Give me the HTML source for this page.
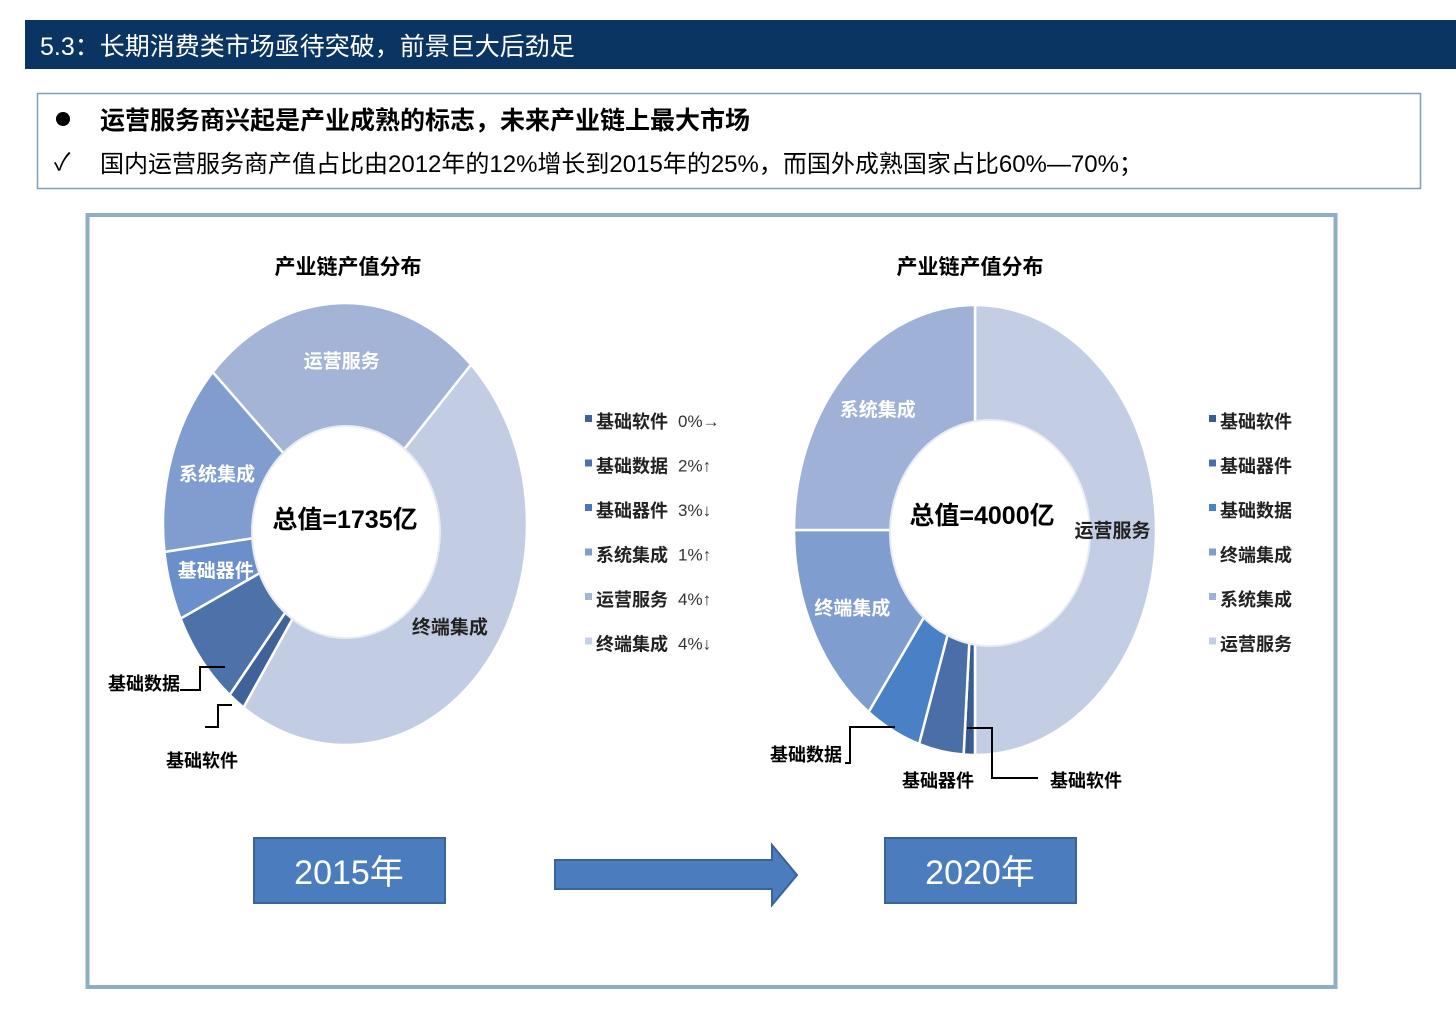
<!DOCTYPE html>
<html><head><meta charset="utf-8">
<style>
body{margin:0;background:#fff;width:1456px;height:1024px;overflow:hidden;font-family:"Liberation Sans","Noto Sans CJK SC",sans-serif}
svg text{font-family:"Liberation Sans","Noto Sans CJK SC",sans-serif}
</style></head>
<body>
<svg id="s" width="1456" height="1024" xmlns="http://www.w3.org/2000/svg">
<rect x="25" y="20" width="1431" height="49" fill="#0a3563"/>
<text x="40" y="55" font-size="25" fill="#fff">5.3：长期消费类市场亟待突破，前景巨大后劲足</text>
<rect x="37.5" y="93.5" width="1383" height="95" fill="#fff" stroke="#7e9fb6" stroke-width="1.5"/>
<circle cx="63" cy="119" r="7" fill="#000"/>
<text x="100" y="129" font-size="25" font-weight="bold" font-family="Liberation Serif,Noto Serif CJK SC,serif">运营服务商兴起是产业成熟的标志，未来产业链上最大市场</text>
<text x="54" y="170" font-size="24">✓</text>
<text x="100" y="172" font-size="24" font-family="Liberation Serif,Noto Serif CJK SC,serif">国内运营服务商产值占比由2012年的12%增长到2015年的25%，而国外成熟国家占比60%—70%；</text>
<rect x="87.5" y="215" width="1248" height="772" fill="#fff" stroke="#8eaec3" stroke-width="4"/>
<text x="348" y="274" font-size="21" font-weight="bold" text-anchor="middle">产业链产值分布</text>
<text x="970" y="274" font-size="21" font-weight="bold" text-anchor="middle">产业链产值分布</text>
<g id="d1"></g><g id="d2"></g>
<text x="345" y="528" font-size="25" font-weight="bold" text-anchor="middle">总值=1735亿</text>
<text x="982" y="524" font-size="25" font-weight="bold" text-anchor="middle">总值=4000亿</text>
<polyline points="180,690 200,690 200,667 225,667" fill="none" stroke="#000" stroke-width="2"/>
<text x="108" y="690" font-size="18" font-weight="bold">基础数据</text>
<polyline points="205,727 218,727 218,705 232,705" fill="none" stroke="#000" stroke-width="2"/>
<text x="166" y="767" font-size="18" font-weight="bold">基础软件</text>
<polyline points="845,763 850,763 850,727 895,727" fill="none" stroke="#000" stroke-width="2"/>
<text x="770" y="761" font-size="18" font-weight="bold">基础数据</text>
<text x="902" y="787" font-size="18" font-weight="bold">基础器件</text>
<polyline points="967,728 992,728 992,778 1038,778" fill="none" stroke="#000" stroke-width="2"/>
<text x="1050" y="787" font-size="18" font-weight="bold">基础软件</text>
<g id="leg1"></g><g id="leg2"></g>
<rect x="254" y="838" width="191" height="65" fill="#4a7cbe" stroke="#3a6397" stroke-width="2"/>
<text x="349" y="884" font-size="34" fill="#fff" text-anchor="middle">2015年</text>
<polygon points="555,860 772,860 772,845 797,875 772,905 772,889 555,889" fill="#4a7cbe" stroke="#3a6397" stroke-width="2"/>
<rect x="885" y="838" width="191" height="65" fill="#4a7cbe" stroke="#3a6397" stroke-width="2"/>
<text x="980" y="884" font-size="34" fill="#fff" text-anchor="middle">2020年</text>
</svg>
<script>
const cats2015 = ["运营服务","终端集成","基础软件","基础数据","基础器件","系统集成"];
const vals2015 = [25, 47, 1.5, 7, 5, 14];
const cols2015 = ["#a3b4d7","#c2cce3","#3f6298","#4d72a9","#6b8fca","#819dcf"];
const lbl2015 = [1,1,0,0,1,1];
const cats2020 = ["运营服务","基础软件","基础器件","基础数据","终端集成","系统集成"];
const vals2020 = [50, 1, 4, 5, 15, 25];
const cols2020 = ["#c3cde4","#3b5c92","#4a6ea8","#4a80c5","#809dd0","#9fb1d6"];
const lbl2020 = [1,0,0,0,1,1];
const legCats2015 = ["基础软件","基础数据","基础器件","系统集成","运营服务","终端集成"];
const legChg2015 = ["0%→","2%↑","3%↓","1%↑","4%↑","4%↓"];
const legCols2015 = ["#3f6298","#4d72a9","#4d72c0","#819dcf","#a3b4d7","#c8cfe6"];
const legCats2020 = ["基础软件","基础器件","基础数据","终端集成","系统集成","运营服务"];
const legCols2020 = ["#3b5c92","#4a6ea8","#4a80c5","#809dd0","#9fb1d6","#c3cde4"];
const NS="http://www.w3.org/2000/svg";
function pt(cx,cy,rx,ry,a){const r=a*Math.PI/180;return [cx+rx*Math.sin(r),cy-ry*Math.cos(r)];}
function donut(g,cats,vals,cols,lbl,start,cx,cy,rx,ry,hx,hy,hrx,hry,labCol,lr){
  const tot=vals.reduce((a,b)=>a+b,0);let a=start;const mids=[];
  cats.forEach((c,i)=>{
    const a1=a+vals[i]/tot*360;
    const p0=pt(cx,cy,rx,ry,a),p1=pt(cx,cy,rx,ry,a1);
    const path=document.createElementNS(NS,"path");
    path.setAttribute("d",`M${cx},${cy}L${p0[0]},${p0[1]}A${rx},${ry} 0 ${a1-a>180?1:0} 1 ${p1[0]},${p1[1]}Z`);
    path.setAttribute("fill",cols[i]);path.setAttribute("stroke","#fff");path.setAttribute("stroke-width","2.5");
    
    
    g.appendChild(path);
    mids.push((a+a1)/2);
    a=a1;
  });
  const h=document.createElementNS(NS,"ellipse");
  h.setAttribute("cx",hx);h.setAttribute("cy",hy);h.setAttribute("rx",hrx);h.setAttribute("ry",hry);
  h.setAttribute("fill","#fff");h.setAttribute("stroke","#e8ecf4");h.setAttribute("stroke-width","2");
  
  
  g.appendChild(h);
  cats.forEach((c,i)=>{
    if(!lbl[i])return;
    const m=pt(cx,cy,rx*lr,ry*lr,mids[i]);
    const t=document.createElementNS(NS,"text");
    t.setAttribute("x",m[0]);t.setAttribute("y",m[1]+7);t.setAttribute("text-anchor","middle");
    t.setAttribute("font-size","19");t.setAttribute("font-weight","bold");
    t.setAttribute("fill",labCol[i]);t.textContent=c;
    
    
    g.appendChild(t);
  });
}
donut(document.getElementById("d1"),cats2015,vals2015,cols2015,lbl2015,-46.6,345,524,182,221,346,532,94,106,
  ["#fff","#222","#fff","#fff","#fff","#fff"],0.74);
donut(document.getElementById("d2"),cats2020,vals2020,cols2020,lbl2020,0,975,530,181,225,990,533,100,113,
  ["#222","#fff","#fff","#fff","#fff","#fff"],0.76);
function legend(g,cats,cols,chg,x,y0,dy){
  cats.forEach((c,i)=>{
    const y=y0+i*dy;
    const r=document.createElementNS(NS,"rect");
    r.setAttribute("x",x);r.setAttribute("y",y-13);r.setAttribute("width",7);r.setAttribute("height",7);r.setAttribute("fill",cols[i]);
    
    
    g.appendChild(r);
    const t=document.createElementNS(NS,"text");
    t.setAttribute("x",x+11);t.setAttribute("y",y);t.setAttribute("font-size","18");t.setAttribute("font-weight","bold");t.setAttribute("fill","#222");
    t.textContent=c;
    
    
    g.appendChild(t);
    if(chg){
      const v=document.createElementNS(NS,"text");
      v.setAttribute("x",x+93);v.setAttribute("y",y-1);v.setAttribute("font-size","17");v.setAttribute("fill","#333");
      v.textContent=chg[i];
      
      
      g.appendChild(v);
    }
  });
}
legend(document.getElementById("leg1"),legCats2015,legCols2015,legChg2015,585,428,44.5);
legend(document.getElementById("leg2"),legCats2020,legCols2020,null,1209,428,44.5);
</script>
</body></html>
